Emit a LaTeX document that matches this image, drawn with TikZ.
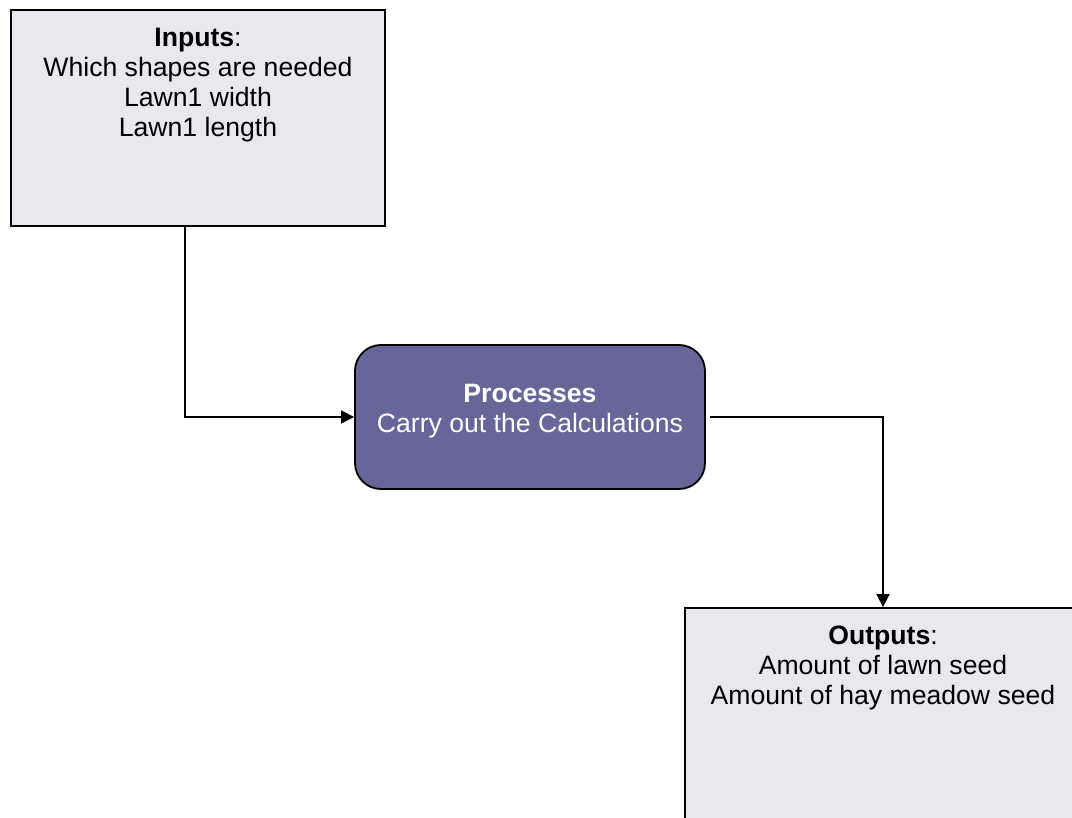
\documentclass[tikz,border=0pt]{standalone}
\usepackage{fontspec}
\setmainfont{Liberation Sans}
\usetikzlibrary{arrows.meta,positioning}
\definecolor{boxgrey}{RGB}{232,232,238}
\definecolor{procpurple}{RGB}{102,102,153}

\begin{document}
\begin{tikzpicture}[x=0.5pt,y=-0.5pt,>={Triangle[length=6.5pt,width=6.5pt]},line width=0.8pt,
    font=\fontsize{13.3}{15}\selectfont,
    iobox/.style={draw,fill=boxgrey,minimum width=187pt,minimum height=108pt,line width=0.9pt},
    procbox/.style={draw,fill=procpurple,rounded corners=13pt,minimum width=175pt,minimum height=72pt,line width=0.9pt},
    boxtext/.style={align=center,inner sep=0pt}]
    \clip (0,0) rectangle (1072,818);
    % boxes
    \node[iobox] (inputs) at (198,118) {};
    \node[procbox] (proc) at (530,417) {};
    \node[iobox,minimum width=198pt] (outputs) at (883,716) {};
    % texts
    \node[boxtext,below=9pt of inputs.north] (inputstext) {\textbf{Inputs}:\\Which shapes are needed\\Lawn1 width\\Lawn1 length};
    \node[boxtext,white,below=19.5pt of proc.north] (proctext) {\textbf{Processes}\\Carry out the Calculations};
    \node[boxtext,below=9pt of outputs.north] (outputstext) {\textbf{Outputs}:\\Amount of lawn seed\\Amount of hay meadow seed};
    % connectors
    \draw[->] ([xshift=-6.5pt]inputs.south) |- (proc.west);
    \draw[->] ([xshift=2pt]proc.east) -| (outputs.north);
\end{tikzpicture}
\end{document}
